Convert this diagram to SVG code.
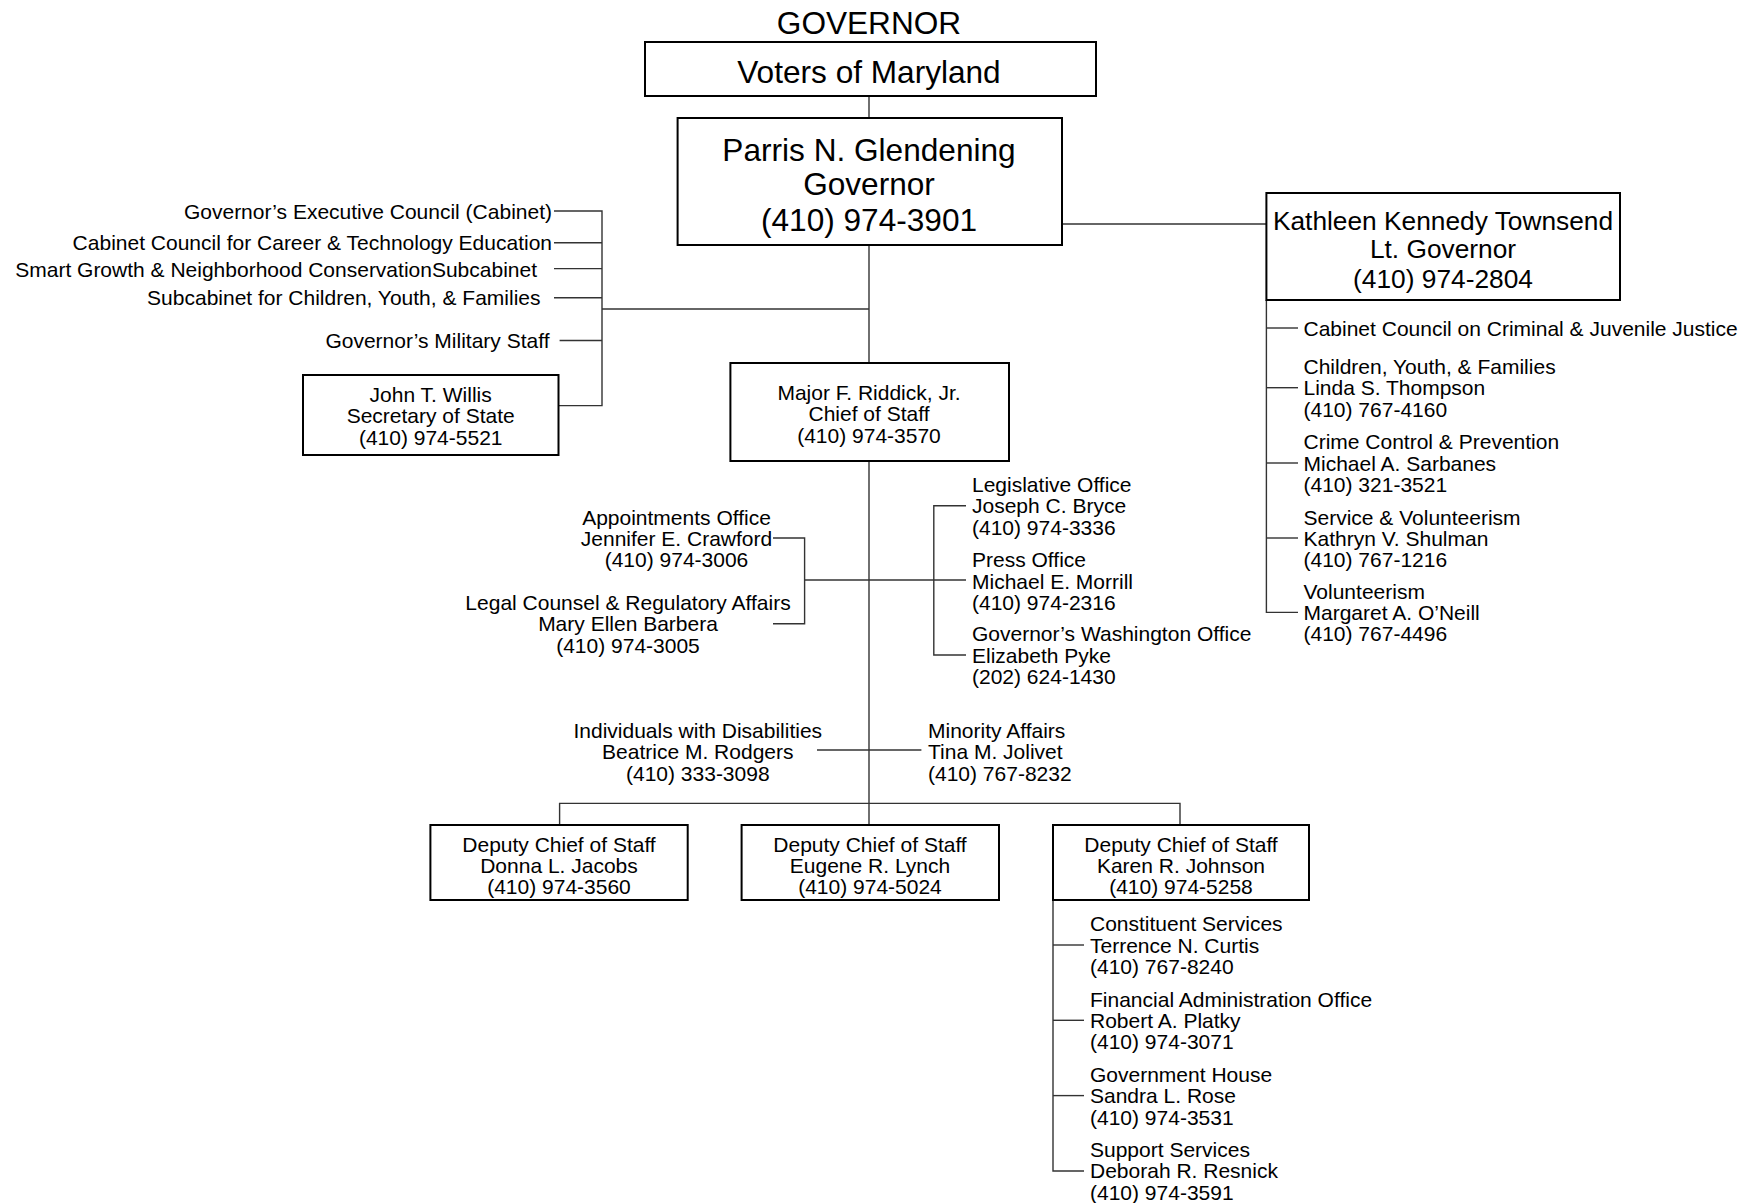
<svg xmlns="http://www.w3.org/2000/svg" width="1762" height="1203" viewBox="0 0 1762 1203">
<style>
text{font-family:"Liberation Sans",Arial,sans-serif;fill:#000}
.big{font-size:31.6px}
.lt{font-size:26.3px}
.sm{font-size:21px}
.c{text-anchor:middle}
.e{text-anchor:end}
.box{fill:#fff;stroke:#000;stroke-width:2}
.ln{stroke:#333;stroke-width:1.4;fill:none}
</style>
<rect width="1762" height="1203" fill="#fff"/>
<g id="connectors">
<line class="ln" x1="869" y1="96" x2="869" y2="118"/>
<line class="ln" x1="869" y1="245" x2="869" y2="363"/>
<line class="ln" x1="1062" y1="224" x2="1266" y2="224"/>
<line class="ln" x1="602" y1="309" x2="869" y2="309"/>
<path class="ln" d="M554 211H602V405.6H558.5"/>
<line class="ln" x1="554" y1="242.7" x2="602" y2="242.7"/>
<line class="ln" x1="554" y1="268.6" x2="602" y2="268.6"/>
<line class="ln" x1="554" y1="297.8" x2="602" y2="297.8"/>
<line class="ln" x1="559.6" y1="340.5" x2="602" y2="340.5"/>
<path class="ln" d="M1266.4 300V612.4H1298"/>
<line class="ln" x1="1266.4" y1="328" x2="1298" y2="328"/>
<line class="ln" x1="1266.4" y1="387.7" x2="1298" y2="387.7"/>
<line class="ln" x1="1266.4" y1="463" x2="1298" y2="463"/>
<line class="ln" x1="1266.4" y1="538" x2="1298" y2="538"/>
<line class="ln" x1="869" y1="461" x2="869" y2="825"/>
<path class="ln" d="M773 538H804.6V623.7H773"/>
<line class="ln" x1="804.6" y1="580" x2="966" y2="580"/>
<path class="ln" d="M966 505.7H933.8V655H966"/>
<line class="ln" x1="817" y1="750" x2="921.4" y2="750"/>
<path class="ln" d="M559.6 825V803.4H1180V825"/>
<path class="ln" d="M1053 900V1171H1084"/>
<line class="ln" x1="1053" y1="945" x2="1084" y2="945"/>
<line class="ln" x1="1053" y1="1020.3" x2="1084" y2="1020.3"/>
<line class="ln" x1="1053" y1="1095.6" x2="1084" y2="1095.6"/>
</g>
<g id="title"><text class="big c" x="869" y="33.5">GOVERNOR</text></g>
<g id="voters">
<rect class="box" x="645" y="42" width="451" height="54"/>
<text class="big c" x="869" y="83">Voters of Maryland</text>
</g>
<g id="governor">
<rect class="box" x="677.6" y="118" width="384.4" height="127"/>
<text class="big c" x="869" y="160.5">Parris N. Glendening</text>
<text class="big c" x="869" y="195.3">Governor</text>
<text class="big c" x="869" y="231.2">(410) 974-3901</text>
</g>
<g id="ltgov">
<rect class="box" x="1266.4" y="193" width="353.6" height="107"/>
<text class="lt c" x="1443" y="229.5">Kathleen Kennedy Townsend</text>
<text class="lt c" x="1443" y="257.6">Lt. Governor</text>
<text class="lt c" x="1443" y="288">(410) 974-2804</text>
</g>
<g id="exec-council"><text class="sm e" x="552" y="218.5">Governor’s Executive Council (Cabinet)</text></g>
<g id="career-council"><text class="sm e" x="552" y="250.2">Cabinet Council for Career &amp; Technology Education</text></g>
<g id="smart-growth"><text class="sm e" x="537" y="277">Smart Growth &amp; Neighborhood ConservationSubcabinet</text></g>
<g id="subcabinet-cyf"><text class="sm e" x="540.5" y="304.5">Subcabinet for Children, Youth, &amp; Families</text></g>
<g id="military"><text class="sm e" x="549.5" y="347.5">Governor’s Military Staff</text></g>
<g id="willis">
<rect class="box" x="303" y="375" width="255.5" height="80"/>
<text class="sm c" x="430.7" y="402">John T. Willis</text>
<text class="sm c" x="430.7" y="423.4">Secretary of State</text>
<text class="sm c" x="430.7" y="444.8">(410) 974-5521</text>
</g>
<g id="riddick">
<rect class="box" x="730.4" y="363" width="278.6" height="98"/>
<text class="sm c" x="869" y="400">Major F. Riddick, Jr.</text>
<text class="sm c" x="869" y="421.4">Chief of Staff</text>
<text class="sm c" x="869" y="442.8">(410) 974-3570</text>
</g>
<g id="criminal-justice"><text class="sm" x="1303.5" y="335.5">Cabinet Council on Criminal &amp; Juvenile Justice</text></g>
<g id="cyf">
<text class="sm" x="1303.5" y="373.8">Children, Youth, &amp; Families</text>
<text class="sm" x="1303.5" y="395.2">Linda S. Thompson</text>
<text class="sm" x="1303.5" y="416.6">(410) 767-4160</text>
</g>
<g id="crime-control">
<text class="sm" x="1303.5" y="449.1">Crime Control &amp; Prevention</text>
<text class="sm" x="1303.5" y="470.5">Michael A. Sarbanes</text>
<text class="sm" x="1303.5" y="491.9">(410) 321-3521</text>
</g>
<g id="service">
<text class="sm" x="1303.5" y="524.5">Service &amp; Volunteerism</text>
<text class="sm" x="1303.5" y="545.9">Kathryn V. Shulman</text>
<text class="sm" x="1303.5" y="567.3">(410) 767-1216</text>
</g>
<g id="volunteerism">
<text class="sm" x="1303.5" y="598.5">Volunteerism</text>
<text class="sm" x="1303.5" y="619.9">Margaret A. O’Neill</text>
<text class="sm" x="1303.5" y="641.3">(410) 767-4496</text>
</g>
<g id="appointments">
<text class="sm c" x="676.5" y="524.5">Appointments Office</text>
<text class="sm c" x="676.5" y="545.9">Jennifer E. Crawford</text>
<text class="sm c" x="676.5" y="567.3">(410) 974-3006</text>
</g>
<g id="legal">
<text class="sm c" x="628" y="609.8">Legal Counsel &amp; Regulatory Affairs</text>
<text class="sm c" x="628" y="631.2">Mary Ellen Barbera</text>
<text class="sm c" x="628" y="652.6">(410) 974-3005</text>
</g>
<g id="legislative">
<text class="sm" x="972" y="492">Legislative Office</text>
<text class="sm" x="972" y="513.4">Joseph C. Bryce</text>
<text class="sm" x="972" y="534.8">(410) 974-3336</text>
</g>
<g id="press">
<text class="sm" x="972" y="567.1">Press Office</text>
<text class="sm" x="972" y="588.5">Michael E. Morrill</text>
<text class="sm" x="972" y="609.9">(410) 974-2316</text>
</g>
<g id="washington">
<text class="sm" x="972" y="641.3">Governor’s Washington Office</text>
<text class="sm" x="972" y="662.7">Elizabeth Pyke</text>
<text class="sm" x="972" y="684.1">(202) 624-1430</text>
</g>
<g id="disabilities">
<text class="sm c" x="697.8" y="737.9">Individuals with Disabilities</text>
<text class="sm c" x="697.8" y="759.3">Beatrice M. Rodgers</text>
<text class="sm c" x="697.8" y="780.7">(410) 333-3098</text>
</g>
<g id="minority">
<text class="sm" x="928" y="737.9">Minority Affairs</text>
<text class="sm" x="928" y="759.3">Tina M. Jolivet</text>
<text class="sm" x="928" y="780.7">(410) 767-8232</text>
</g>
<g id="jacobs">
<rect class="box" x="430.4" y="825" width="257.3" height="75"/>
<text class="sm c" x="559" y="851.5">Deputy Chief of Staff</text>
<text class="sm c" x="559" y="872.9">Donna L. Jacobs</text>
<text class="sm c" x="559" y="894.3">(410) 974-3560</text>
</g>
<g id="lynch">
<rect class="box" x="741.6" y="825" width="257.4" height="75"/>
<text class="sm c" x="870" y="851.5">Deputy Chief of Staff</text>
<text class="sm c" x="870" y="872.9">Eugene R. Lynch</text>
<text class="sm c" x="870" y="894.3">(410) 974-5024</text>
</g>
<g id="johnson">
<rect class="box" x="1053" y="825" width="256" height="75"/>
<text class="sm c" x="1181" y="851.5">Deputy Chief of Staff</text>
<text class="sm c" x="1181" y="872.9">Karen R. Johnson</text>
<text class="sm c" x="1181" y="894.3">(410) 974-5258</text>
</g>
<g id="constituent">
<text class="sm" x="1090" y="931.2">Constituent Services</text>
<text class="sm" x="1090" y="952.6">Terrence N. Curtis</text>
<text class="sm" x="1090" y="974">(410) 767-8240</text>
</g>
<g id="financial">
<text class="sm" x="1090" y="1006.5">Financial Administration Office</text>
<text class="sm" x="1090" y="1027.9">Robert A. Platky</text>
<text class="sm" x="1090" y="1049.3">(410) 974-3071</text>
</g>
<g id="govhouse">
<text class="sm" x="1090" y="1081.8">Government House</text>
<text class="sm" x="1090" y="1103.2">Sandra L. Rose</text>
<text class="sm" x="1090" y="1124.6">(410) 974-3531</text>
</g>
<g id="support">
<text class="sm" x="1090" y="1157">Support Services</text>
<text class="sm" x="1090" y="1178.4">Deborah R. Resnick</text>
<text class="sm" x="1090" y="1199.8">(410) 974-3591</text>
</g>
</svg>
